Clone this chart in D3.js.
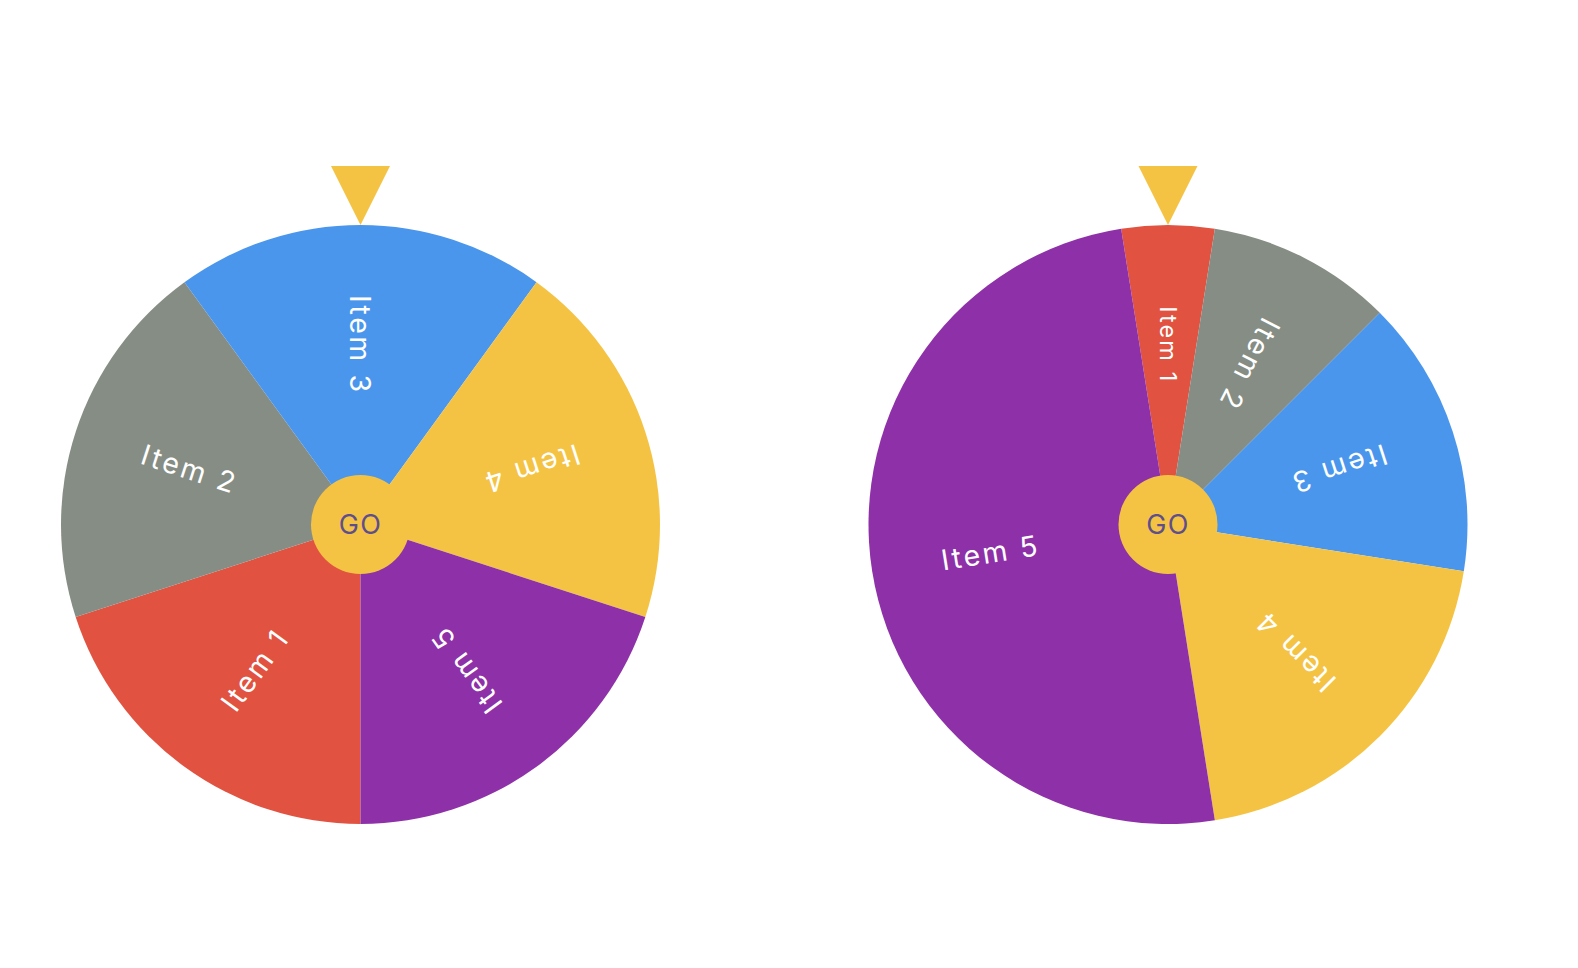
<!DOCTYPE html>
<html>
<head>
<meta charset="utf-8">
<script src="https://cdn.jsdelivr.net/npm/d3@7"></script>
<style>
  html, body { margin: 0; padding: 0; background: #ffffff; }
  svg { display: block; }
</style>
</head>
<body>
<svg id="chart" width="1578" height="968"></svg>
<script>
// ---- data ----
const items = ["Item 1", "Item 2", "Item 3", "Item 4", "Item 5"];
const leftWeights = [1, 1, 1, 1, 1];
const rightWeights = [1, 2, 3, 4, 10];
const sliceColors = ["#e15240", "#868d84", "#4a96ec", "#f5c343", "#8e30a7"];
const leftSelected = "Item 3";
const rightSelected = "Item 1";
const hubLabel = "GO";

// ---- layout ----
const svg = d3.select("#chart");
const R = 299.5;
const hubR = 49.5;
const FONT = "Inter, 'Liberation Sans', Arial, sans-serif";

function drawWheel(cx, cy, weights, selected) {
  const data = items.map((name, i) => ({ name, w: weights[i], color: sliceColors[i] }));
  const base = d3.pie().sort(null).value(d => d.w)(data);
  const sel = base.find(a => a.data.name === selected);
  const offset = -(sel.startAngle + sel.endAngle) / 2;
  const arcs = d3.pie().sort(null).value(d => d.w)
    .startAngle(offset).endAngle(offset + 2 * Math.PI)(data);

  const g = svg.append("g").attr("transform", `translate(${cx},${cy})`);
  const arc = d3.arc().innerRadius(0).outerRadius(R);

  g.selectAll("path.slice").data(arcs).join("path")
    .attr("class", "slice")
    .attr("d", arc)
    .attr("fill", d => d.data.color);

  const labelR = R * 0.6;
  g.selectAll("text.lbl").data(arcs).join("text")
    .attr("class", "lbl")
    .attr("transform", d => {
      const mid = (d.startAngle + d.endAngle) / 2;
      const x = labelR * Math.sin(mid);
      const y = -labelR * Math.cos(mid);
      return `translate(${x},${y}) rotate(${mid * 180 / Math.PI + 90})`;
    })
    .attr("text-anchor", "middle")
    .attr("dy", "0.36em")
    .attr("fill", "#ffffff")
    .attr("font-family", FONT)
    .attr("font-size", d => Math.min(28.5, (d.endAngle - d.startAngle) * 180 / Math.PI * 1.3))
    .style("letter-spacing", "0.09em")
    .text(d => d.data.name);

  // hub
  g.append("circle").attr("r", hubR).attr("fill", "#f5c343");
  g.append("text")
    .attr("text-anchor", "middle")
    .attr("dy", "0.36em")
    .attr("fill", "#5e4e8c")
    .attr("font-family", FONT)
    .attr("font-size", 27)
    .style("letter-spacing", "0.05em")
    .text(hubLabel);

  // pointer
  const pw = 59, ph = 59;
  svg.append("path")
    .attr("d", d3.line()([[cx - pw / 2, cy - R - ph], [cx + pw / 2, cy - R - ph], [cx, cy - R]]) + "Z")
    .attr("fill", "#f5c343");
}

drawWheel(360.5, 524.5, leftWeights, leftSelected);
drawWheel(1168, 524.5, rightWeights, rightSelected);
</script>
</body>
</html>
